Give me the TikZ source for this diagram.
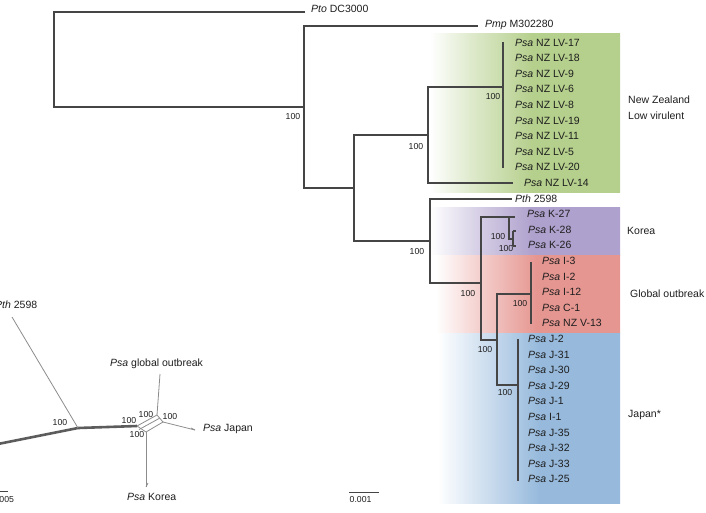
\documentclass[tikz,border=0pt]{standalone}
\usepackage{fontspec}
\setmainfont{Liberation Sans}
\definecolor{treeline}{HTML}{454545}
\definecolor{netline}{HTML}{8C8C8C}
\definecolor{netthick}{HTML}{5C5C5C}
\definecolor{txt}{HTML}{1E1E1E}
\definecolor{nzgreen}{HTML}{B5CF8C}
\definecolor{kopurple}{HTML}{AFA1CD}
\definecolor{glred}{HTML}{E69691}
\definecolor{jpblue}{HTML}{96B9DC}
% horizontal fades from white into each clade colour
\pgfdeclarehorizontalshading{nzfade}{100bp}{color(0bp)=(white); color(25bp)=(white); color(36bp)=(nzgreen!45); color(52bp)=(nzgreen); color(100bp)=(nzgreen)}
\pgfdeclarehorizontalshading{kofade}{100bp}{color(0bp)=(white); color(25bp)=(white); color(36bp)=(kopurple!45); color(52bp)=(kopurple); color(100bp)=(kopurple)}
\pgfdeclarehorizontalshading{glfade}{100bp}{color(0bp)=(white); color(26.5bp)=(white); color(38bp)=(glred!45); color(53bp)=(glred); color(100bp)=(glred)}
\pgfdeclarehorizontalshading{jpfade}{100bp}{color(0bp)=(white); color(27bp)=(white); color(39bp)=(jpblue!45); color(54bp)=(jpblue); color(100bp)=(jpblue)}
\begin{document}
\begin{tikzpicture}[x=1pt,y=-1pt,
  branch/.style={draw=treeline, line width=1.2pt},
  netedge/.style={draw=netline, line width=0.8pt},
  leaf/.style={anchor=mid west, inner sep=0pt, text=txt, font=\fontsize{10.5}{12}\selectfont},
  cladelbl/.style={anchor=mid west, inner sep=0pt, text=txt, font=\fontsize{10.5}{12}\selectfont},
  boot/.style={inner sep=0pt, text=txt, font=\fontsize{8.7}{10}\selectfont},
  scalelbl/.style={anchor=mid west, inner sep=0pt, text=txt, font=\fontsize{8.7}{10}\selectfont}]
\useasboundingbox (0,0) rectangle (706,512);

% ---- clade bands: white fading into the clade colour ----
\shade[shading=nzfade] (430,33) rectangle (620,192);
\shade[shading=kofade] (430,207) rectangle (620,255);
\shade[shading=glfade] (430,255) rectangle (620,333);
\shade[shading=jpfade] (430,333) rectangle (620,503);

% ---- leaf labels ----
\node[leaf] (pto) at (311,10) {\textit{Pto} DC3000};
\node[leaf] (pmp) at (485,25) {\textit{Pmp} M302280};
\foreach \i/\xx/\nm in {0/515/NZ LV-17, 1/515/NZ LV-18, 2/515/NZ LV-9, 3/515/NZ LV-6,
    4/515/NZ LV-8, 5/515/NZ LV-19, 6/515/NZ LV-11, 7/515/NZ LV-5, 8/515/NZ LV-20,
    9/524/NZ LV-14, 11/527/K-27, 12/528/K-28, 13/528/K-26,
    14/542/I-3, 15/542/I-2, 16/542/I-12, 17/542/C-1, 18/542/NZ V-13,
    19/528/J-2, 20/528/J-31, 21/528/J-30, 22/528/J-29, 23/528/J-1, 24/528/I-1,
    25/528/J-35, 26/528/J-32, 27/528/J-33, 28/528/J-25}
  \node[leaf] (leaf\i) at (\xx,{43.5+15.6*\i}) {\textit{Psa} \nm};
\node[leaf] (leaf10) at (515,199.5) {\textit{Pth} 2598};

% ---- clade names ----
\node[cladelbl] (nzname) at (628,101) {New Zealand};
\node[cladelbl] (nzname2) at (628,116.5) {Low virulent};
\node[cladelbl] (koname) at (627,232) {Korea};
\node[cladelbl] (glname) at (630,295) {Global outbreak};
\node[cladelbl] (jpname) at (628,415) {Japan*};

% ---- internal nodes and branch tips ----
\coordinate (r)     at (54,60);
\coordinate (ptoT)  at (305,12);
\coordinate (n1)    at (304,107);
\coordinate (pmpT)  at (478,26);
\coordinate (n2)    at (354,188);
\coordinate (nNZ)   at (428,135);
\coordinate (nLV)   at (503,87);
\coordinate (lvTop) at (503,42);
\coordinate (lvBot) at (503,168);
\coordinate (lv14T) at (513,183);
\coordinate (n3)    at (430,241);
\coordinate (pthT)  at (512,199);
\coordinate (n4)    at (481,283);
\coordinate (ka)    at (509,217);
\coordinate (k27T)  at (515,217);
\coordinate (kb)    at (513,239);
\coordinate (kbTop) at (513,231);
\coordinate (kbBot) at (513,246);
\coordinate (n5)    at (497,340);
\coordinate (gl)    at (531,294);
\coordinate (glTop) at (531,262);
\coordinate (glBot) at (531,324);
\coordinate (jp)    at (518,385);
\coordinate (jpTop) at (518,339);
\coordinate (jpBot) at (518,481);

% ---- tree branches ----
\draw[branch] (ptoT) -| (r) |- (n1);
\draw[branch] (pmpT) -| (n1) |- (n2);
\draw[branch] (nNZ) -| (n2) |- (n3);
\draw[branch] (nLV) -| (nNZ) |- (lv14T);
\draw[branch] (lvTop) -- (lvBot);
\draw[branch] (pthT) -| (n3) |- (n4);
\draw[branch] (ka) -| (n4) |- (n5);
\draw[branch] (k27T) -- (ka) |- (kb);
\draw[branch] (kbTop) -- (kbBot);
\draw[branch] (kbTop) -- ++(3,0) (kbBot) -- ++(3,0);
\draw[branch] (gl) -| (n5) |- (jp);
\draw[branch] (glTop) -- (glBot);
\draw[branch] (jpTop) -- (jpBot);

% ---- bootstrap values ----
\foreach \bx/\by [count=\k] in {293/117, 416/146, 417/251, 493/97, 468/293,
    498/236, 506/248, 520/303, 485/349, 505/392}
  \node[boot] (bs\k) at (\bx,\by) {100};

% ---- scale bar of the tree ----
\coordinate (sbL) at (349,492);
\coordinate (sbR) at (379,492);
\draw[treeline, line width=0.8pt] (sbL) -- (sbR);
\node[scalelbl] (sblbl) at (349.5,500) {0.001};

% ---- unrooted network ----
\coordinate (ntL)  at (-2,444);
\coordinate (nA)   at (78,428);
\coordinate (nB)   at (137,426);
\coordinate (pthE) at (12,317);
\coordinate (nG)   at (157,415);
\coordinate (nG2)  at (160,418);
\coordinate (nB2)  at (139,429.5);
\coordinate (nJ)   at (163,422);
\coordinate (nK)   at (146,432);
\coordinate (glE)  at (160,374);
\coordinate (jpE)  at (195,430);
\coordinate (koE)  at (146,487);
\draw[netthick, line width=2.6pt, line join=round] (ntL) -- (nA) -- (nB);
\draw[netedge] (pthE) -- (nA);
\draw[netedge] (nB) -- (nG) -- (nJ) -- (nK) -- (nB);
\draw[netedge] (nB2) -- (nG2);
\draw[netedge] (nG) -- (glE);
\draw[netedge] (nJ) -- (jpE);
\draw[netedge] (jpE) -- ++(-4,-2);
\draw[netedge] (nK) -- (koE);
\draw[netedge] (koE) -- ++(2,-4);

\node[leaf] (npth) at (-5,306) {\textit{Pth} 2598};
\node[leaf] (nglob) at (110,364) {\textit{Psa} global outbreak};
\node[leaf] (njap) at (203,429) {\textit{Psa} Japan};
\node[leaf] (nkor) at (127,498) {\textit{Psa} Korea};
\foreach \bx/\by [count=\k] in {60/422, 129/420, 146/414, 170/416, 137/434}
  \node[boot] (nbs\k) at (\bx,\by) {100};

% ---- scale bar of the network ----
\coordinate (nsbL) at (-22,491);
\coordinate (nsbR) at (8,491);
\draw[treeline, line width=0.8pt] (nsbL) -- (nsbR);
\node[scalelbl] (nsblbl) at (-8,499.5) {0.005};
\end{tikzpicture}
\end{document}
